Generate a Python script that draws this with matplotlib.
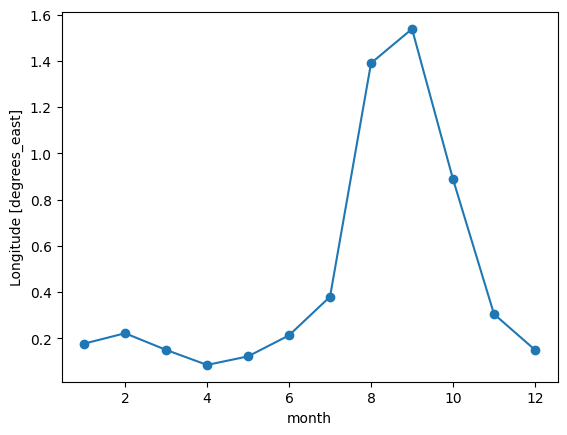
import matplotlib
matplotlib.use("Agg")
import matplotlib.pyplot as plt

month = [1, 2, 3, 4, 5, 6, 7, 8, 9, 10, 11, 12]
lon = [0.177, 0.222, 0.150, 0.085, 0.122, 0.213, 0.380, 1.390, 1.538, 0.888, 0.305, 0.150]

fig, ax = plt.subplots()
ax.plot(month, lon, marker="o")
ax.set_xlabel("month")
ax.set_ylabel("Longitude [degrees_east]")

fig.savefig("out.png", bbox_inches="tight")
